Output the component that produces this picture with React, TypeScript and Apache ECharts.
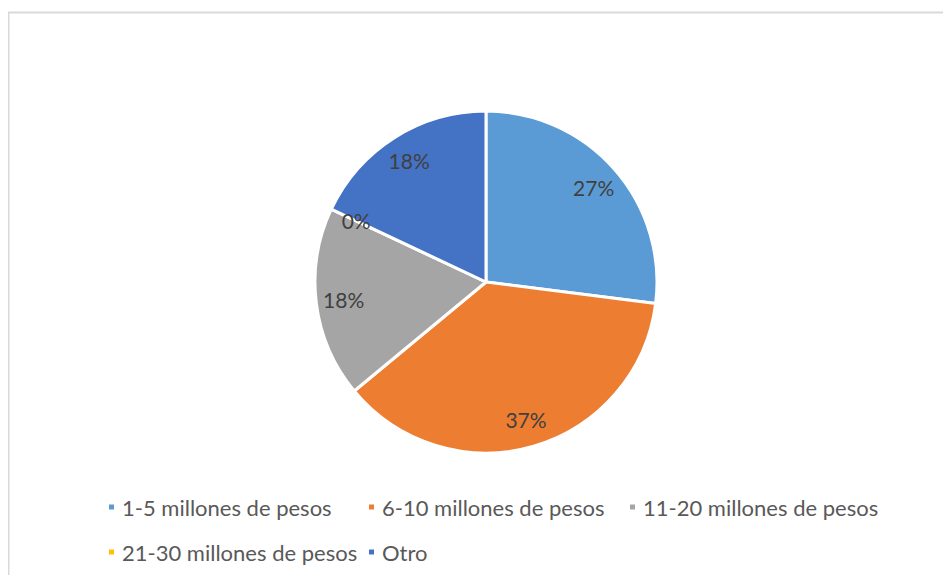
import React, { useEffect, useRef } from "react";
import * as echarts from "echarts";

const categories = [
  "1-5 millones de pesos",
  "6-10 millones de pesos",
  "11-20 millones de pesos",
  "21-30 millones de pesos",
  "Otro",
];
const values = [27, 37, 18, 0, 18];
const colors = ["#5B9BD5", "#ED7D31", "#A5A5A5", "#FFC000", "#4472C4"];

const FONT = "Lato";

export default function App() {
  const ref = useRef<HTMLDivElement>(null);
  useEffect(() => {
    if (!ref.current) return;
    const chart = echarts.init(ref.current, undefined, { renderer: "svg" });
    const data = categories.map((name, i) => ({
      name,
      value: values[i],
      itemStyle: { color: colors[i] },
    }));
    const legendPos = [
      { left: 99, top: 488 },
      { left: 359, top: 488 },
      { left: 620, top: 488 },
      { left: 99, top: 533 },
      { left: 359, top: 533 },
    ];
    const legends = categories.map((name, i) => ({
      data: [name],
      left: legendPos[i].left,
      top: legendPos[i].top,
      orient: "horizontal",
      icon: "rect",
      itemWidth: 7,
      itemHeight: 7,
      padding: 0,
      selectedMode: false,
      textStyle: {
        fontFamily: FONT,
        fontSize: 22,
        color: "#595959",
        lineHeight: 22,
        padding: [0, 0, 0, 2],
      },
    }));
    chart.setOption({
      animation: false,
      backgroundColor: "#ffffff",
      graphic: [
        {
          type: "rect",
          shape: { x: 0.5, y: 4.5, width: 1400, height: 1400 },
          style: { fill: "none", stroke: "#d9d9d9", lineWidth: 2 },
          silent: true,
        },
      ],
      legend: legends,
      series: [
        {
          type: "pie",
          center: [478, 274],
          radius: [0, 171],
          startAngle: 90,
          clockwise: true,
          silent: true,
          data,
          label: { show: false },
          labelLine: { show: false },
          itemStyle: { borderColor: "#ffffff", borderWidth: 3 },
        },
        {
          type: "pie",
          center: [478, 274],
          radius: [110, 171],
          startAngle: 90,
          clockwise: true,
          silent: true,
          data: categories.map((name, i) => ({ name, value: values[i] })),
          itemStyle: { color: "rgba(0,0,0,0)", borderWidth: 0 },
          label: {
            show: true,
            position: "inside",
            formatter: (p: any) => `${Math.round(p.percent)}%`,
            fontFamily: FONT,
            fontSize: 21,
            color: "#404040",
          },
          labelLine: { show: false },
        },
      ],
    });
    return () => chart.dispose();
  }, []);
  return <div ref={ref} style={{ width: 943, height: 567 }} />;
}
